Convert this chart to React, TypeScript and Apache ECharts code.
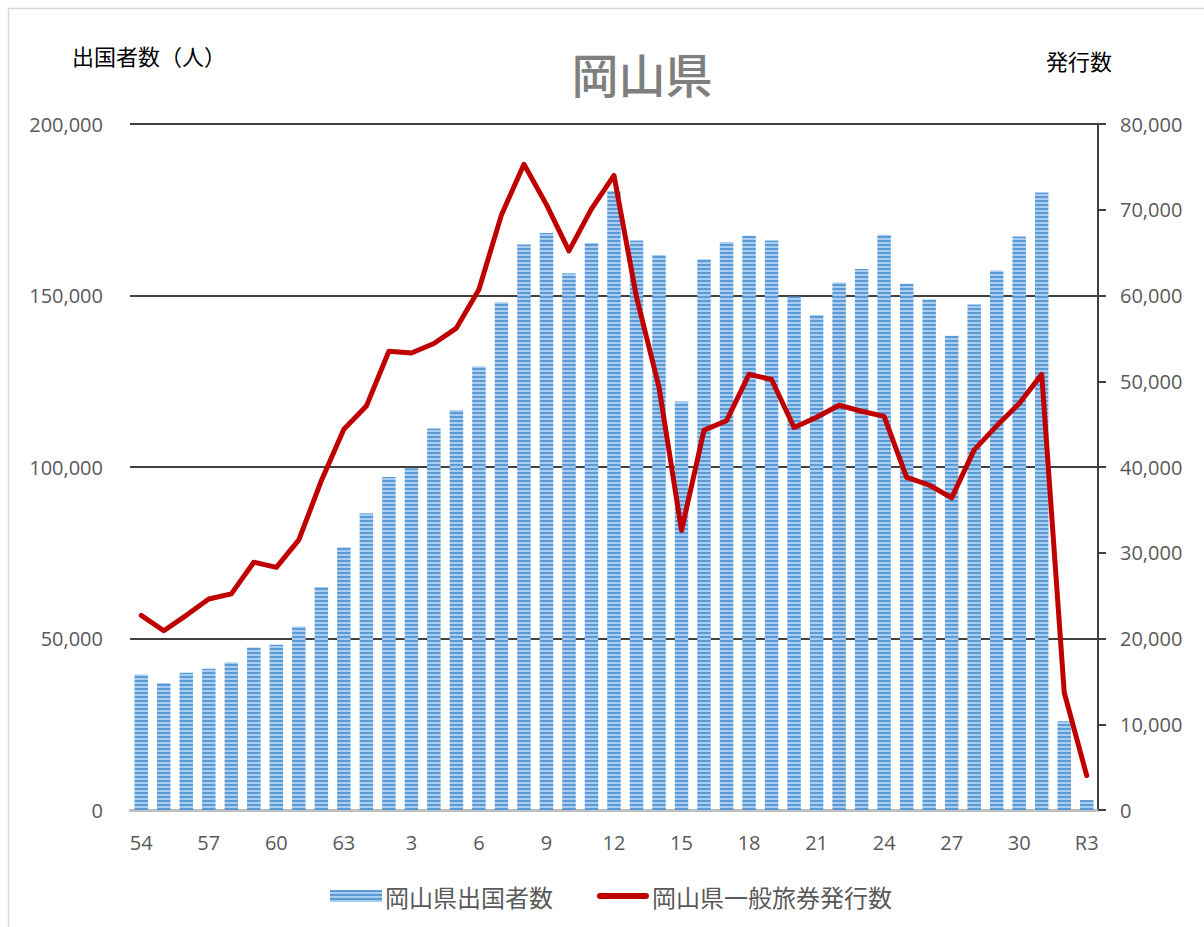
import React, { useEffect, useRef } from "react";
import * as echarts from "echarts";

const categories: string[] = [
  "54", "55", "56", "57", "58", "59", "60", "61", "62", "63",
  "1", "2", "3", "4", "5", "6", "7", "8", "9", "10",
  "11", "12", "13", "14", "15", "16", "17", "18", "19", "20",
  "21", "22", "23", "24", "25", "26", "27", "28", "29", "30",
  "R1", "R2", "R3",
];

const departures: number[] = [
  39500, 37000, 40000, 41200, 43100, 47400, 48200, 53500, 65000, 76600,
  86500, 97100, 99600, 111200, 116600, 129400, 148000, 164900, 168200, 156500,
  165300, 180500, 166000, 161800, 119100, 160600, 165600, 167400, 166000, 149700,
  144300, 153800, 157700, 167700, 153400, 148900, 138300, 147400, 157300, 167200,
  180000, 25900, 2900,
];

const passports: number[] = [
  22700, 20900, 22700, 24600, 25200, 28900, 28300, 31500, 38400, 44400,
  47100, 53500, 53300, 54400, 56200, 60700, 69400, 75300, 70600, 65200,
  70100, 74000, 59800, 49300, 32600, 44300, 45400, 50800, 50200, 44600,
  45800, 47200, 46500, 45900, 38800, 37900, 36400, 42000, 44800, 47400,
  50800, 13700, 4000,
];

const leftTicks = { min: 0, max: 200000, interval: 50000 };
const rightTicks = { min: 0, max: 80000, interval: 10000 };

const seriesNames = ["岡山県出国者数", "岡山県一般旅券発行数"];
const titleText = "岡山県";
const leftAxisName = "出国者数（人）";
const rightAxisName = "発行数";

function makeStripePattern(): any {
  const c = document.createElement("canvas");
  c.width = 4;
  c.height = 4;
  const ctx = c.getContext("2d")!;
  ctx.fillStyle = "#a8cdf0";
  ctx.fillRect(0, 0, 4, 4);
  ctx.fillStyle = "#5b9bd5";
  ctx.fillRect(0, 0, 4, 2);
  return {
    image: c.toDataURL(),
    repeat: "repeat",
    imageWidth: 4,
    imageHeight: 4,
  };
}

const fmt = (v: number) => v.toLocaleString("en-US");
const latin = "'Open Sans', 'Noto Sans', sans-serif";
const jp = "'Noto Sans CJK JP', sans-serif";

const lineIcon =
  "path://M26,0L26.01,0L26.01,12L26,12Z M3,3L49,3A3,3 0 0 1 49,9L3,9A3,3 0 0 1 3,3Z";

export default function App() {
  const ref = useRef<HTMLDivElement>(null);
  useEffect(() => {
    if (!ref.current) return;
    const chart = echarts.init(ref.current, undefined, { renderer: "svg" });
    const pattern = makeStripePattern();
    chart.setOption({
      animation: false,
      backgroundColor: "#ffffff",
      grid: { left: 130, right: 106, top: 124, bottom: 117, containLabel: false },
      graphic: [
        {
          type: "rect",
          shape: { x: 8.5, y: 8.5, width: 1200, height: 930 },
          style: { fill: "none", stroke: "#d9d9d9", lineWidth: 1.5 },
          silent: true,
        },
        {
          type: "text",
          x: 642,
          y: 72,
          style: {
            text: titleText,
            font: `500 47px ${jp}`,
            fill: "#7f7f7f",
            align: "center",
            verticalAlign: "middle",
          },
        },
        {
          type: "text",
          x: 72,
          y: 55,
          style: {
            text: leftAxisName,
            font: `22px ${jp}`,
            fill: "#000000",
            align: "left",
            verticalAlign: "middle",
          },
        },
        {
          type: "text",
          x: 1046,
          y: 60,
          style: {
            text: rightAxisName,
            font: `22px ${jp}`,
            fill: "#000000",
            align: "left",
            verticalAlign: "middle",
          },
        },
      ],
      legend: {
        bottom: 14,
        left: 325,
        itemGap: 44,
        itemWidth: 52,
        itemHeight: 12,
        textStyle: { color: "#595959", fontSize: 24, fontFamily: jp, padding: [0, 0, 0, -2] },
        data: [
          { name: seriesNames[0], icon: "rect" },
          { name: seriesNames[1], icon: lineIcon, itemStyle: { color: "#c00000" } },
        ],
      },
      xAxis: {
        type: "category",
        data: categories,
        boundaryGap: true,
        axisLine: { show: true, lineStyle: { color: "#bfbfbf", width: 3 } },
        axisTick: { show: false },
        axisLabel: {
          interval: 2,
          color: "#595959",
          fontSize: 20,
          fontFamily: latin,
          margin: 22,
        },
      },
      yAxis: [
        {
          type: "value",
          min: leftTicks.min,
          max: leftTicks.max,
          interval: leftTicks.interval,
          axisLine: { show: false },
          axisTick: { show: false },
          splitLine: { show: true, lineStyle: { color: "#000000", width: 1.5 } },
          axisLabel: {
            color: "#595959",
            fontSize: 20,
            fontFamily: latin,
            margin: 27,
            formatter: (v: number) => fmt(v),
          },
        },
        {
          type: "value",
          position: "right",
          min: rightTicks.min,
          max: rightTicks.max,
          interval: rightTicks.interval,
          axisLine: { show: true, lineStyle: { color: "#404040", width: 2 } },
          axisTick: { show: true, inside: false, length: 8, lineStyle: { color: "#404040", width: 2 } },
          splitLine: { show: false },
          axisLabel: {
            color: "#595959",
            fontSize: 20,
            fontFamily: latin,
            margin: 22,
            formatter: (v: number) => fmt(v),
          },
        },
      ],
      series: [
        {
          name: seriesNames[0],
          type: "bar",
          yAxisIndex: 0,
          data: departures,
          barCategoryGap: "40%",
          itemStyle: { color: pattern },
        },
        {
          name: seriesNames[1],
          type: "line",
          yAxisIndex: 1,
          data: passports,
          showSymbol: false,
          symbol: "none",
          lineStyle: { color: "#c00000", width: 5, cap: "round", join: "round" },
          itemStyle: { color: "#c00000" },
          z: 5,
        },
      ],
    });
    return () => chart.dispose();
  }, []);
  return (
    <div
      ref={ref}
      style={{ position: "absolute", left: 0, top: 0, width: 1204, height: 927 }}
    />
  );
}
